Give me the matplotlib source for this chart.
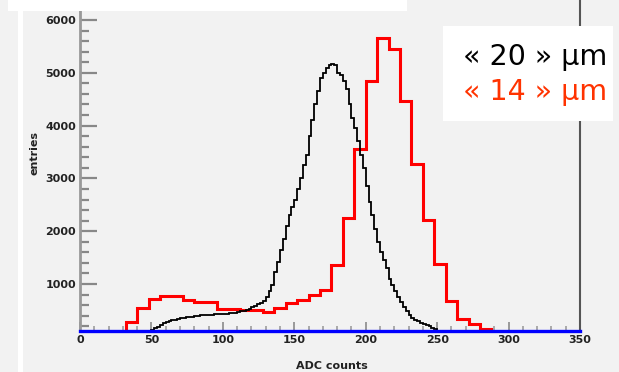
import matplotlib
matplotlib.use("Agg")
import matplotlib.pyplot as plt
from matplotlib.patches import Rectangle
from matplotlib.ticker import MultipleLocator

# red histogram ("14 um"), 8 ADC wide bins starting at 32
red_start, red_width = 32, 8
red_counts = [280, 540, 715, 775, 775, 700, 650, 650, 530, 520, 510, 505,
              475, 540, 635, 705, 790, 885, 1360, 2255, 3550, 4845, 5655, 5445,
              4465, 3265, 2210, 1375, 680, 340, 235, 150]

# black histogram ("20 um"), 2 ADC wide bins starting at 48
black_start, black_width = 48, 2
black_counts = [100, 130, 160, 190, 230, 260, 280, 300, 315, 325, 340, 350,
                360, 370, 375, 380, 390, 400, 405, 410, 415, 420, 420, 425,
                430, 430, 435, 440, 445, 450, 460, 470, 480, 490, 505, 520,
                560, 590, 615, 640, 680, 760, 860, 980, 1220, 1420, 1650, 1850,
                2100, 2300, 2450, 2600, 2800, 3000, 3250, 3450, 3800, 4100, 4400, 4650,
                4900, 5000, 5100, 5140, 5170, 5150, 5000, 4950, 4850, 4700, 4400, 4150,
                3950, 3700, 3450, 3200, 2850, 2550, 2300, 2050, 1800, 1600, 1450, 1300,
                1100, 980, 870, 750, 650, 560, 480, 420, 360, 320, 290, 270,
                250, 230, 200, 170, 140, 110]

x_ticks = [0, 50, 100, 150, 200, 250, 300, 350]
y_ticks = [1000, 2000, 3000, 4000, 5000, 6000]
legend_labels = ["« 20 » µm", "« 14 » µm"]
legend_colors = ["black", "#ff3300"]

W, H = 619, 372
bg = "#f2f2f2"

red_edges = [red_start + red_width * i for i in range(len(red_counts) + 1)]
black_edges = [black_start + black_width * i for i in range(len(black_counts) + 1)]

fig = plt.figure(figsize=(W / 100, H / 100), dpi=100, facecolor=bg)

# white stripe on the left
fig.patches.append(Rectangle((18 / W, 0), 5 / W, 1, transform=fig.transFigure,
                             facecolor="white", edgecolor="none", zorder=0))

ymin, ymax = 110, 6600
px_per_unit = 52.8 / 1000
ax_h = (ymax - ymin) * px_per_unit
ax = fig.add_axes([80 / W, (H - 331) / H, 500 / W, ax_h / H])
ax.set_facecolor(bg)

ax.stairs(red_counts, red_edges, baseline=0, color="#ff0000", lw=2.2, zorder=2)
ax.stairs(black_counts, black_edges, baseline=0, color="black", lw=1.3, zorder=3)
ax.axhline(ymin, color="#0000ff", lw=2.4, zorder=5, clip_on=False)

ax.set_xlim(0, 350)
ax.set_ylim(ymin, ymax)

ax.spines["top"].set_visible(False)
ax.spines["bottom"].set_visible(False)
ax.spines["left"].set_color("#999999")
ax.spines["left"].set_linewidth(2.0)
ax.spines["right"].set_color("#555555")
ax.spines["right"].set_linewidth(1.5)

ax.set_xticks(x_ticks)
ax.set_yticks(y_ticks)
ax.xaxis.set_minor_locator(MultipleLocator(10))
ax.yaxis.set_minor_locator(MultipleLocator(200))
ax.tick_params(axis="y", which="major", direction="in", length=12, width=1.6,
               color="#888888", pad=3, labelsize=8, labelcolor="#222222")
ax.tick_params(axis="y", which="minor", direction="in", length=6.5, width=1.6,
               color="#888888")
ax.tick_params(axis="x", which="major", direction="in", length=6.5, width=1.4,
               color="#999999", pad=3, labelsize=8, labelcolor="#222222")
ax.tick_params(axis="x", which="minor", direction="in", length=3.5, width=1.4,
               color="#aaaaaa")
for lab in ax.get_xticklabels() + ax.get_yticklabels():
    lab.set_fontweight("bold")

fig.text(332 / W, 1 - 366 / H, "ADC counts", ha="center", va="center",
         fontsize=8, fontweight="bold", color="#222222")
fig.text(35 / W, 1 - 153 / H, "entries", ha="center", va="center",
         rotation=90, fontsize=8, fontweight="bold", color="#222222")

# title box cut off by the top edge
fig.patches.append(Rectangle((8 / W, 1 - 11 / H), 399 / W, 11 / H,
                             transform=fig.transFigure, facecolor="white",
                             edgecolor="none", zorder=10))

# legend box
fig.patches.append(Rectangle((443 / W, 1 - 121 / H), 170 / W, 95 / H,
                             transform=fig.transFigure, facecolor="white",
                             edgecolor="none", zorder=10))
fig.text(463 / W, 1 - 65 / H, legend_labels[0], color=legend_colors[0],
         fontsize=20.5, ha="left", va="baseline", zorder=11)
fig.text(463 / W, 1 - 100 / H, legend_labels[1], color=legend_colors[1],
         fontsize=20.5, ha="left", va="baseline", zorder=11)

fig.savefig("out.png", dpi=100, facecolor=bg)
